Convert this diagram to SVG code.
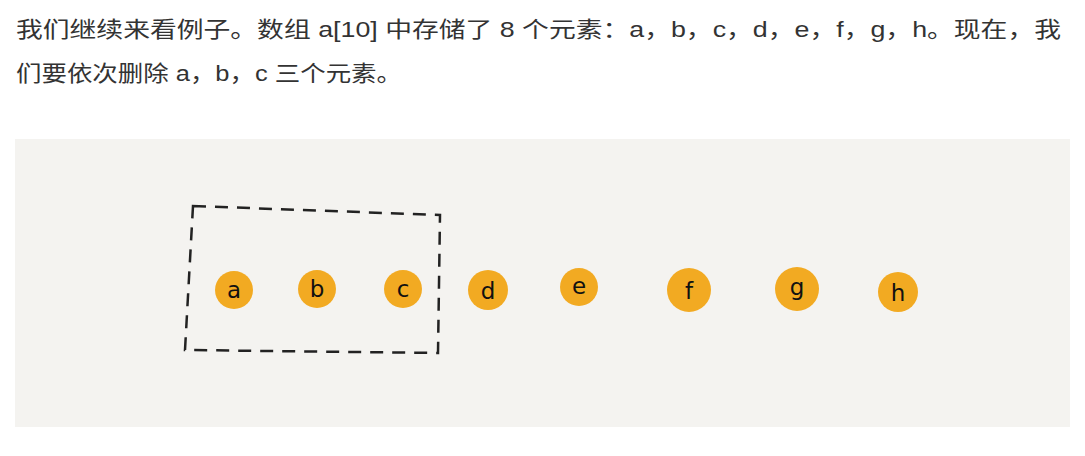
<svg xmlns="http://www.w3.org/2000/svg" width="1085" height="456" viewBox="0 0 1085 456">
<style>
.t{font-family:"Liberation Sans","Noto Sans CJK SC",sans-serif;font-size:22px;fill:#333333}
.dot{fill:#f2aa22}
.lb{font-family:"DejaVu Sans","Liberation Sans",sans-serif;font-size:23px;fill:#111111;text-anchor:middle}
.box{fill:none;stroke:#222;stroke-width:2.5;stroke-dasharray:13 9}
</style>
<rect width="1085" height="456" fill="#ffffff"/>
<text class="t" x="16" y="37" textLength="1045" lengthAdjust="spacingAndGlyphs">我们继续来看例子。数组 a[10] 中存储了 8 个元素：a，b，c，d，e，f，g，h。现在，我</text>
<text class="t" x="16" y="81" textLength="386" lengthAdjust="spacingAndGlyphs">们要依次删除 a，b，c 三个元素。</text>
<rect x="15" y="139" width="1055" height="288" fill="#f4f3f0"/>
<g id="box"><path class="box" d="M193,206 L440,215 L438,353 L185,350 Z"/></g>
<g id="a"><circle class="dot" cx="234" cy="290" r="19"/><text class="lb" x="234" y="298">a</text></g>
<g id="b"><circle class="dot" cx="317" cy="289" r="19"/><text class="lb" x="317" y="297">b</text></g>
<g id="c"><circle class="dot" cx="403" cy="289" r="19"/><text class="lb" x="403" y="297">c</text></g>
<g id="d"><circle class="dot" cx="488" cy="290" r="20"/><text class="lb" x="488" y="299">d</text></g>
<g id="e"><circle class="dot" cx="579" cy="287" r="19"/><text class="lb" x="579" y="294">e</text></g>
<g id="f"><circle class="dot" cx="689" cy="290" r="22"/><text class="lb" x="689" y="299">f</text></g>
<g id="g"><circle class="dot" cx="797" cy="289" r="22"/><text class="lb" x="797" y="295">g</text></g>
<g id="h"><circle class="dot" cx="898" cy="292" r="20"/><text class="lb" x="898" y="301">h</text></g>
</svg>
